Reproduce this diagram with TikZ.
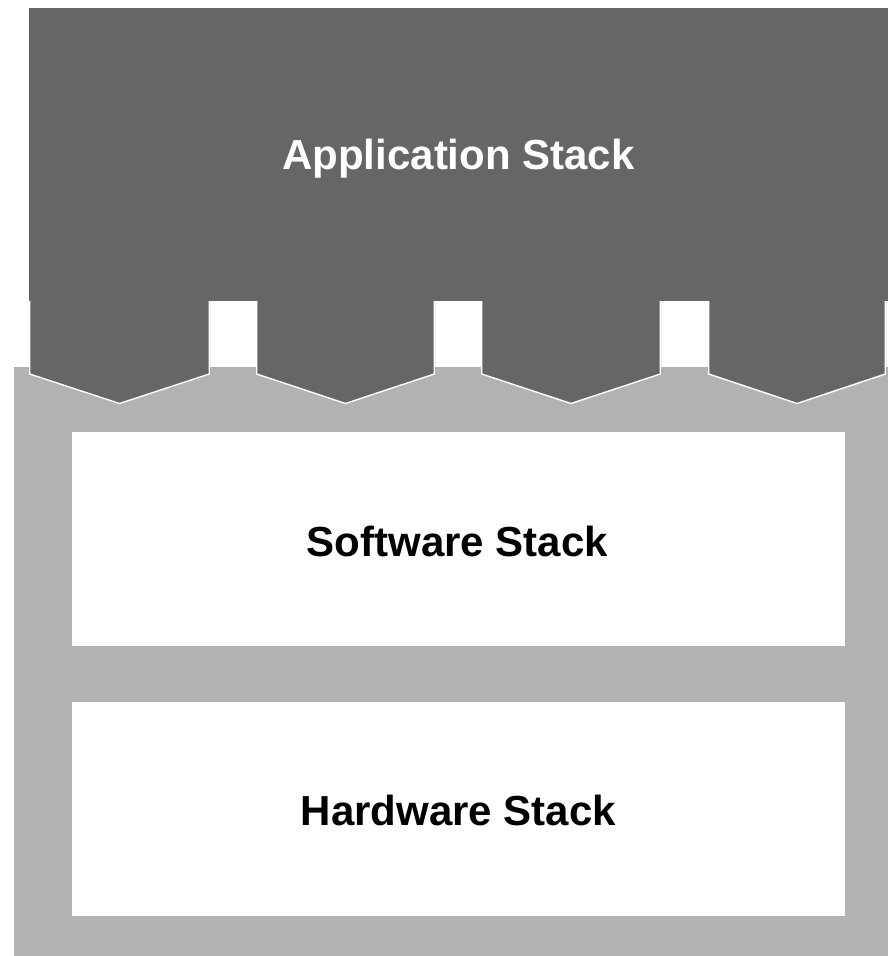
\documentclass[tikz,border=0pt]{standalone}
\usepackage{fontspec}
\setmainfont{Liberation Sans}

\definecolor{appgray}{gray}{0.4}
\definecolor{basegray}{gray}{0.7}

\begin{document}
\begin{tikzpicture}[
    x=1pt, y=-1pt,
    label/.style={font=\fontsize{42}{48}\selectfont\bfseries, anchor=base},
    layer/.style={
        rectangle,
        fill=white,
        inner sep=0pt,
        minimum width=773pt,
        minimum height=214pt
    }
]
    \useasboundingbox (0,0) rectangle (888,956);

    % Unterbau
    \fill[basegray] (14,367) rectangle (888,956);

    % Anwendungsblock mit Zaehnen
    \fill[appgray] (29,8) rectangle (888,301);
    \foreach \l/\r in {29/210, 256/435, 481/661, 708/886} {
        \fill[appgray] (\l,300) -- (\l,374) -- ({(\l+\r)/2},403) -- (\r,374) -- (\r,300) -- cycle;
        \draw[white, line width=1.4pt] (\l+0.7,301) -- (\l+0.7,374) -- ({(\l+\r)/2},403.5) -- (\r-0.7,374) -- (\r-0.7,301);
    }

    % Schichten
    \node[layer] (sw) at (458.5,538.5) {};
    \node[layer] (hw) at (458.5,808.5) {};

    % Beschriftungen
    \node[label, text=white] (app) at (458.5,169) {Application Stack};
    \node[label] (swtext) at (457.5,556) {Software Stack};
    \node[label] (hwtext) at (458.5,825) {Hardware Stack};
\end{tikzpicture}
\end{document}
